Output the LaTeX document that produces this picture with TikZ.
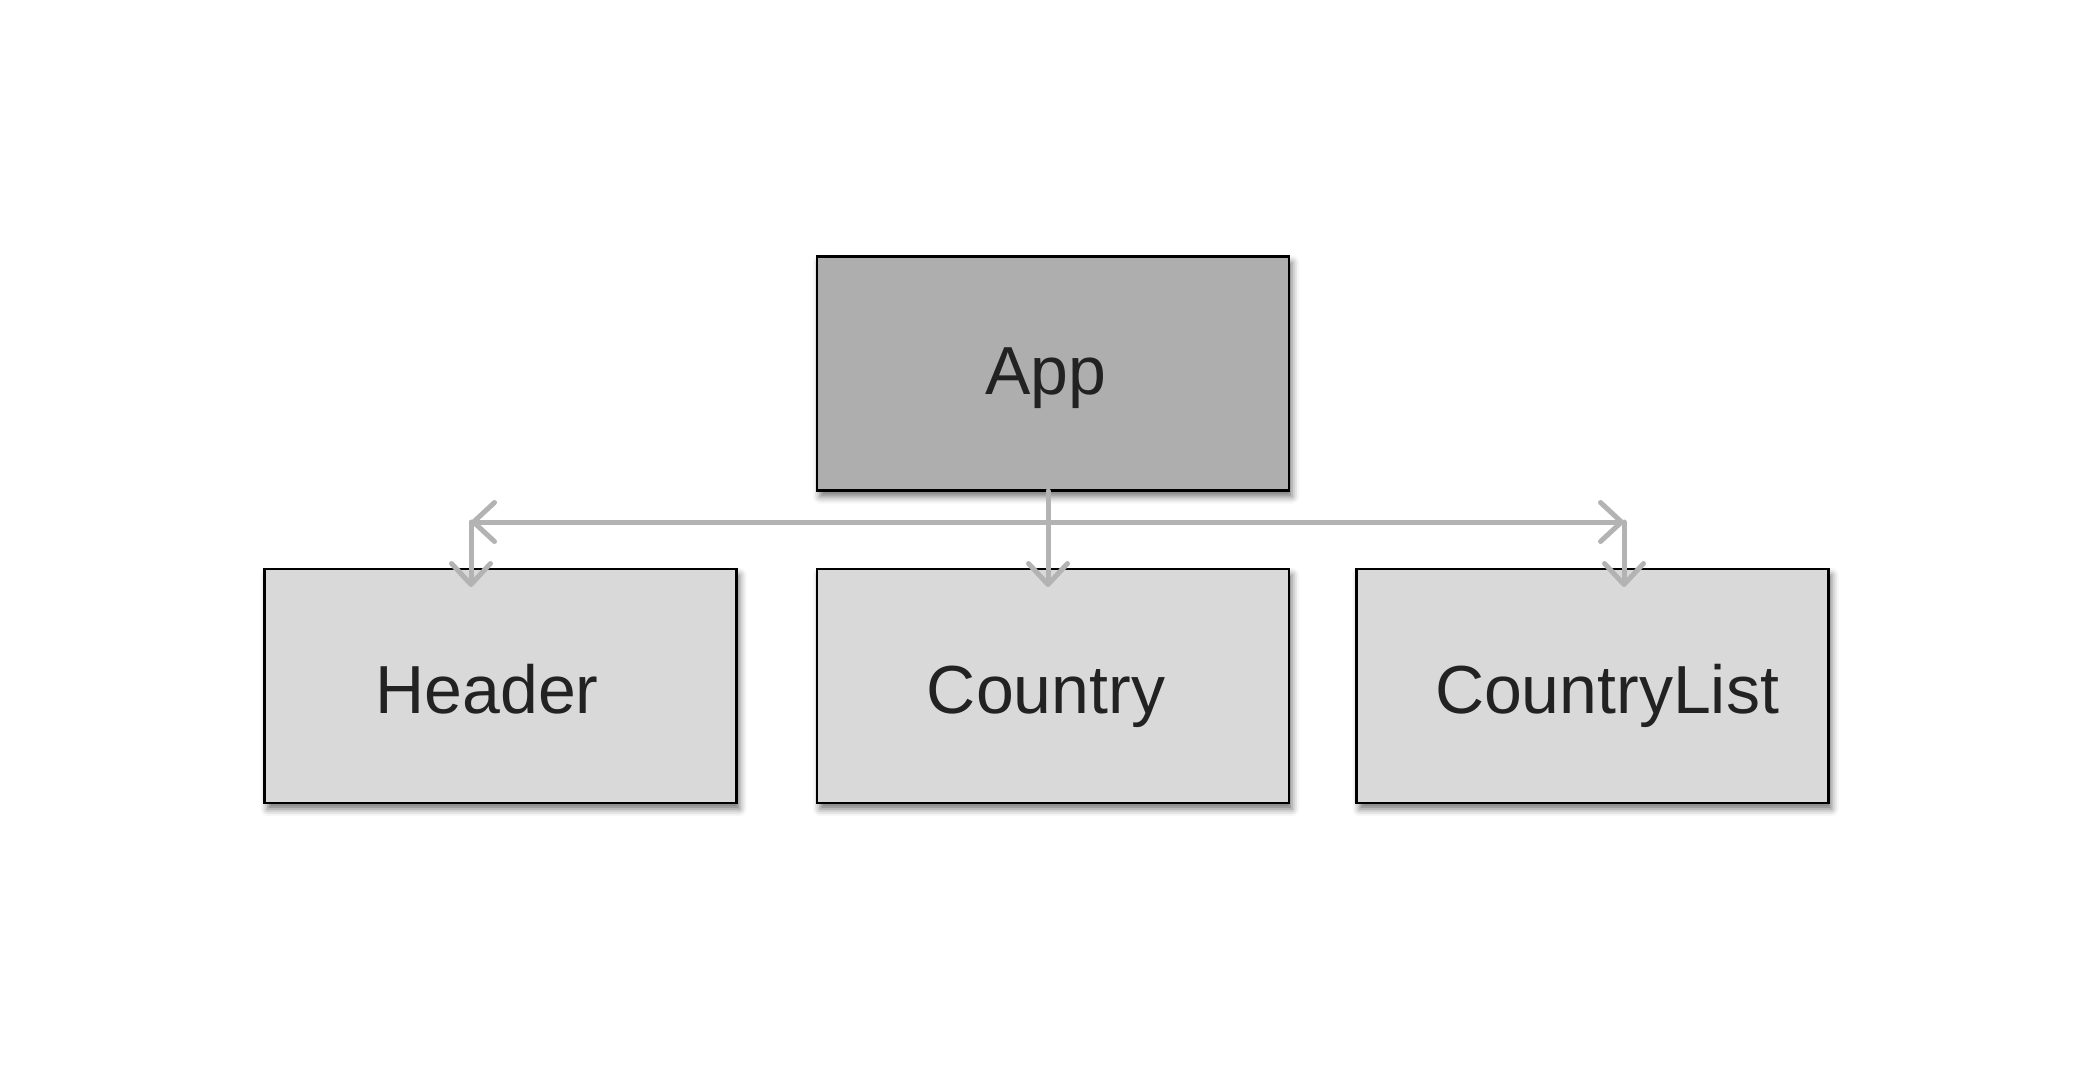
\documentclass[tikz,border=0pt]{standalone}
\usepackage{fontspec}
\setmainfont{Liberation Sans}
\usetikzlibrary{arrows.meta,shadows.blur}
\definecolor{appfill}{HTML}{AEAEAE}
\definecolor{boxfill}{HTML}{D9D9D9}
\definecolor{conncol}{HTML}{B3B3B3}
\definecolor{txtcol}{HTML}{222222}
\tikzset{
  box/.style={draw=black, line width=1.1pt, minimum width=236pt, minimum height=117pt,
    inner sep=0pt, blur shadow={shadow xshift=1.5pt, shadow yshift=-3pt, shadow blur radius=3.5pt, shadow opacity=55}},
  appbox/.style={box, fill=appfill},
  childbox/.style={box, fill=boxfill},
  lbl/.style={text=txtcol, font=\fontsize{34}{40}\selectfont, inner sep=0pt, anchor=base},
  barbtip/.tip={Straight Barb[length=10.5pt, width=19.5pt, line cap=round, line join=round]},
  conn/.style={draw=conncol, line width=2.5pt, line cap=round}
}
\begin{document}
\begin{tikzpicture}[x=0.5pt, y=-0.5pt]
\useasboundingbox (0,0) rectangle (2094,1076);
% boxes
\node[appbox] (app) at (1053,373.5) {};
\node[childbox] (header) at (500.5,686) {};
\node[childbox] (country) at (1053,686) {};
\node[childbox] (clist) at (1592.5,686) {};
% labels
\node[lbl] (tapp) at (1046,394) {App};
\node[lbl] (thead) at (487,713) {Header};
\node[lbl] (tcountry) at (1046,713) {Country};
\node[lbl] (tclist) at (1607,713) {CountryList};
% connector points
\coordinate (src) at (1048,491);
\coordinate (jl) at (471,522);
\coordinate (jr) at (1624,522);
\coordinate (th) at (471,587);
\coordinate (tc) at (1048,587);
\coordinate (tl) at (1624,587);
% connectors
\draw[conn, barbtip-barbtip] (jl) -- (jr);
\draw[conn, -barbtip] (jl) -- (th);
\draw[conn, -barbtip] (jr) -- (tl);
\draw[conn, -barbtip] (src) -- (tc);
\end{tikzpicture}
\end{document}
